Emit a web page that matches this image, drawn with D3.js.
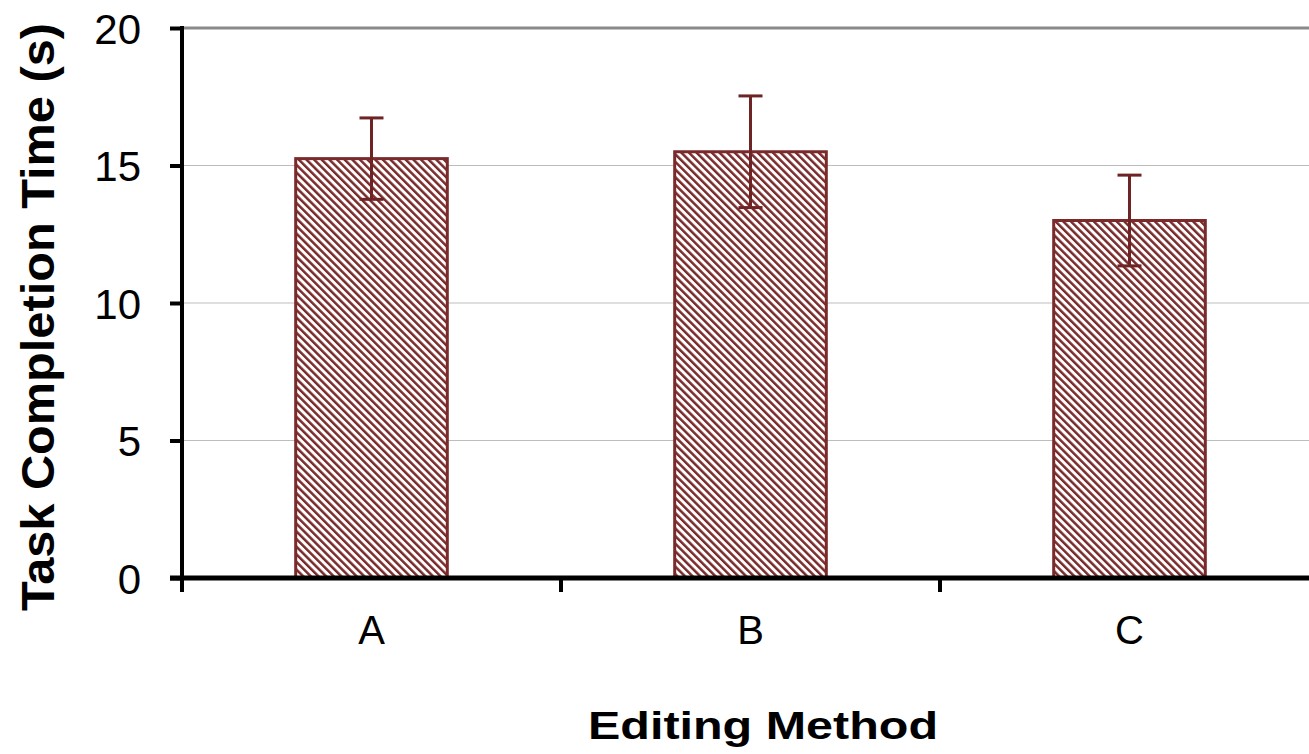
<!DOCTYPE html>
<html><head><meta charset="utf-8">
<script src="https://cdn.jsdelivr.net/npm/d3@7"></script>
<style>body{margin:0;background:#fff;}svg{display:block;}</style>
</head><body>
<svg id="c" width="1309" height="754"></svg>
<script>
const categories = ["A", "B", "C"];
const meanValues = [15.25, 15.5, 13.0];
const errorValues = [1.48, 2.03, 1.65];
const yTicks = [0, 5, 10, 15, 20];

const svg = d3.select("#c");
const font = "Liberation Sans, Arial, sans-serif";
const barColor = "#7a2a2a";

const x0 = 182, yTop = 28, yBottom = 578, step = 379;
const x = d3.scaleBand().domain(categories).range([x0, x0 + step * categories.length]).paddingInner(0.6).paddingOuter(0.3);
const y = d3.scaleLinear().domain([0, 20]).range([yBottom, yTop]);

const defs = svg.append("defs");
const pat = defs.append("pattern").attr("id", "hatch").attr("patternUnits", "userSpaceOnUse")
  .attr("width", 5.4).attr("height", 5.4).attr("patternTransform", "rotate(-45)");
pat.append("rect").attr("width", 5.4).attr("height", 5.4).attr("fill", "#fff");
pat.append("rect").attr("x", 0).attr("y", 0).attr("width", 2.5).attr("height", 5.4).attr("fill", barColor);

// gridlines
svg.append("g").selectAll("line").data(yTicks.filter(d => d > 0)).join("line")
  .attr("x1", x0).attr("x2", 1309).attr("y1", d => y(d)).attr("y2", d => y(d))
  .attr("stroke", d => d === 20 ? "#8a8a8a" : "#bdbdbd")
  .attr("stroke-width", d => d === 20 ? 3 : 1);

// bars
svg.append("g").selectAll("rect").data(categories).join("rect")
  .attr("x", d => x(d)).attr("width", x.bandwidth())
  .attr("y", (d, i) => y(meanValues[i])).attr("height", (d, i) => y(0) - y(meanValues[i]))
  .attr("fill", "url(#hatch)").attr("stroke", barColor).attr("stroke-width", 3);

// error bars
const eb = svg.append("g").attr("stroke", "#6e2424").attr("stroke-width", 3);
categories.forEach((c, i) => {
  const cx = x(c) + x.bandwidth() / 2;
  const hi = y(meanValues[i] + errorValues[i]), lo = y(meanValues[i] - errorValues[i]);
  eb.append("line").attr("x1", cx).attr("x2", cx).attr("y1", hi).attr("y2", lo);
  eb.append("line").attr("x1", cx - 12).attr("x2", cx + 12).attr("y1", hi).attr("y2", hi);
  eb.append("line").attr("x1", cx - 12).attr("x2", cx + 12).attr("y1", lo).attr("y2", lo);
});

// y axis
const yAxis = d3.axisLeft(y).tickValues(yTicks).tickSize(12).tickPadding(29);
const gy = svg.append("g").attr("transform", `translate(${x0},0)`).call(yAxis);
gy.attr("font-size", null).attr("font-family", null);
gy.select(".domain").remove();
gy.selectAll(".tick line").attr("stroke", "#000").attr("stroke-width", 4);
gy.selectAll(".tick text").style("font-family", font).style("font-size", "42px").attr("fill", "#000").attr("dy", "0.36em");
svg.append("line").attr("x1", x0).attr("x2", x0).attr("y1", yTop - 2).attr("y2", yBottom + 14)
  .attr("stroke", "#000").attr("stroke-width", 4);

// x axis
const gx = svg.append("g").attr("transform", `translate(0,${yBottom})`);
gx.append("line").attr("x1", 170).attr("x2", 1309).attr("y1", 0).attr("y2", 0).attr("stroke", "#000").attr("stroke-width", 5);
gx.selectAll(".xt").data(d3.range(categories.length + 1)).join("line").attr("class", "xt")
  .attr("x1", i => x0 + i * step).attr("x2", i => x0 + i * step).attr("y1", 0).attr("y2", 14)
  .attr("stroke", "#000").attr("stroke-width", 4);
gx.selectAll("text").data(categories).join("text")
  .attr("x", d => x(d) + x.bandwidth() / 2).attr("y", 66)
  .attr("text-anchor", "middle").style("font-family", font).style("font-size", "40px").text(d => d);

// titles
svg.append("text").attr("x", 763).attr("y", 739).attr("text-anchor", "middle")
  .style("font-family", font).attr("font-weight", "bold").style("font-size", "38px")
  .attr("textLength", 350).attr("lengthAdjust", "spacingAndGlyphs").text("Editing Method");
svg.append("text").attr("transform", "translate(54,317) rotate(-90)").attr("text-anchor", "middle")
  .style("font-family", font).attr("font-weight", "bold").style("font-size", "46px")
  .attr("textLength", 588).attr("lengthAdjust", "spacingAndGlyphs").text("Task Completion Time (s)");
</script>
</body></html>
